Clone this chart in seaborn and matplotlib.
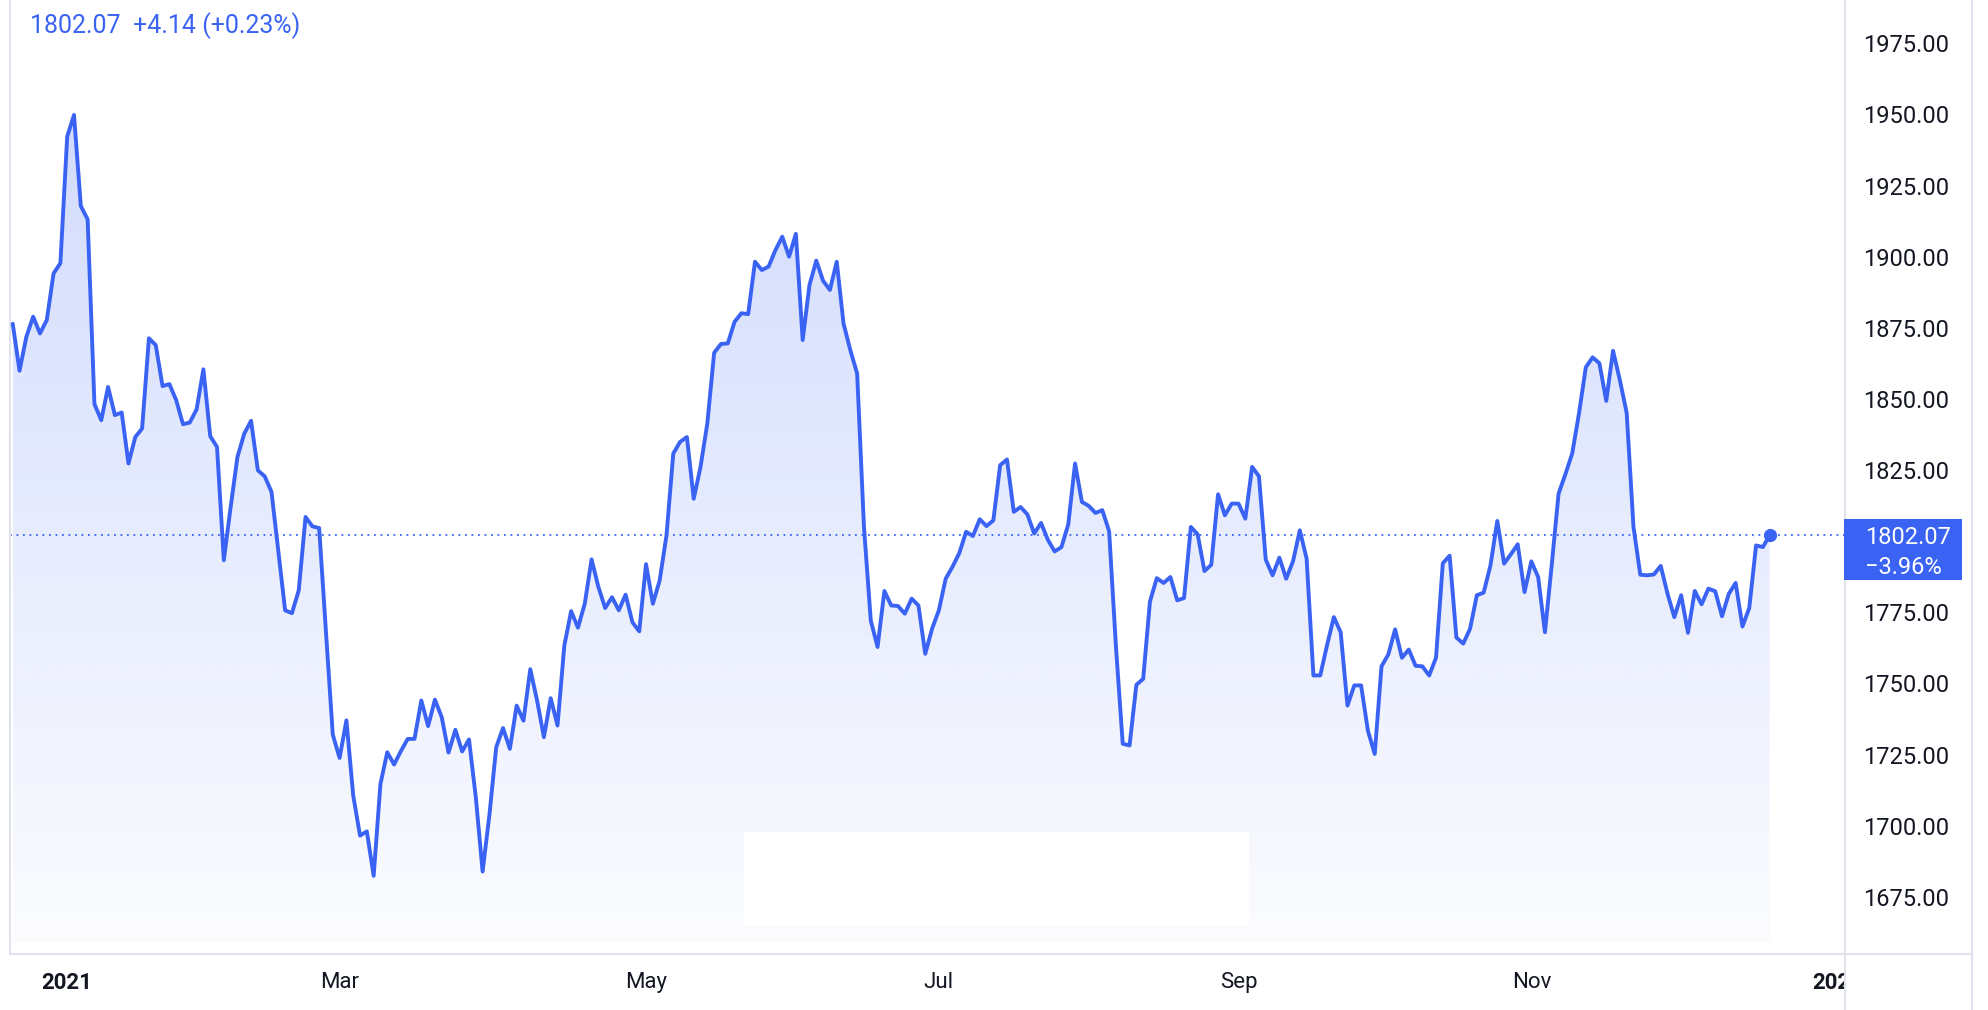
"""Gold spot, one year daily close, area chart."""
import numpy as np
import pandas as pd
import matplotlib.pyplot as plt
import matplotlib.transforms as mtransforms
from matplotlib.colors import to_rgb
from matplotlib.lines import Line2D
from matplotlib.patches import Rectangle
import seaborn as sns

# daily closes, one per trading day starting 2020-12-21
prices = [
    1876.4, 1859.9, 1871.8, 1878.9, 1873.0, 1877.7, 1894.1, 1897.7, 1942.2, 1949.8,
    1917.8, 1913.1, 1848.2, 1842.5, 1854.2, 1844.3, 1845.2, 1827.3, 1836.6, 1839.6,
    1871.3, 1868.9, 1854.5, 1855.2, 1849.6, 1841.1, 1841.7, 1846.3, 1860.4, 1836.9,
    1833.1, 1793.3, 1812.0, 1829.6, 1837.8, 1842.3, 1824.9, 1822.8, 1817.3, 1796.5,
    1775.7, 1774.7, 1782.7, 1808.5, 1805.2, 1804.6, 1768.0, 1732.0, 1723.8, 1737.0,
    1710.6, 1696.5, 1698.0, 1682.4, 1714.7, 1725.8, 1721.5, 1726.2, 1730.5, 1730.5,
    1744.0, 1735.0, 1744.3, 1738.1, 1725.7, 1733.7, 1726.1, 1730.3, 1710.0, 1683.9,
    1703.8, 1727.6, 1734.3, 1727.0, 1742.2, 1736.9, 1755.0, 1744.0, 1731.1, 1744.8,
    1735.2, 1763.3, 1775.4, 1769.6, 1778.0, 1793.6, 1783.9, 1776.5, 1780.3, 1775.7,
    1781.2, 1771.5, 1768.3, 1791.9, 1778.0, 1786.2, 1802.0, 1830.8, 1834.9, 1836.6,
    1814.9, 1826.1, 1841.4, 1866.2, 1869.3, 1869.5, 1877.1, 1880.1, 1879.8, 1898.2,
    1895.3, 1896.5, 1902.3, 1907.0, 1900.0, 1908.0, 1870.7, 1890.0, 1898.6, 1891.5,
    1888.3, 1898.2, 1876.5, 1867.1, 1858.9, 1805.0, 1772.1, 1762.8, 1782.5, 1777.4,
    1777.2, 1774.5, 1779.8, 1777.4, 1760.4, 1769.2, 1775.7, 1786.8, 1791.0, 1795.8,
    1803.3, 1801.8, 1807.7, 1805.3, 1807.3, 1826.7, 1828.7, 1810.3, 1812.0, 1809.4,
    1802.7, 1806.4, 1800.5, 1796.4, 1797.9, 1805.9, 1827.3, 1813.8, 1812.4, 1809.9,
    1810.9, 1803.5, 1763.0, 1728.8, 1728.2, 1749.5, 1751.6, 1778.8, 1787.0, 1785.3,
    1787.4, 1779.2, 1780.0, 1805.0, 1802.4, 1789.5, 1791.7, 1816.5, 1809.1, 1813.2,
    1813.2, 1807.9, 1826.1, 1822.8, 1793.5, 1788.0, 1794.2, 1786.8, 1792.9, 1803.8,
    1793.9, 1752.8, 1752.8, 1763.4, 1773.3, 1768.0, 1742.2, 1749.3, 1749.3, 1733.4,
    1725.2, 1756.0, 1760.2, 1769.0, 1759.0, 1761.9, 1756.2, 1756.0, 1752.8, 1759.0,
    1792.2, 1794.9, 1766.1, 1764.0, 1769.2, 1781.0, 1781.9, 1791.5, 1807.1, 1792.1,
    1795.4, 1798.9, 1782.1, 1792.9, 1787.4, 1768.0, 1791.8, 1816.7, 1823.5, 1830.8,
    1844.9, 1861.1, 1864.6, 1862.5, 1849.3, 1866.9, 1856.6, 1845.1, 1805.0, 1788.2,
    1788.0, 1788.3, 1791.3, 1781.5, 1773.3, 1781.0, 1767.8, 1782.5, 1777.8, 1783.3,
    1782.4, 1773.6, 1781.5, 1785.3, 1770.0, 1776.5, 1798.5, 1797.93, 1802.07,
]
start_date = "2020-12-21"
holidays = ["2020-12-25", "2021-01-01"]
price_ticks = list(range(1675, 1976, 25))
label_months = [1, 3, 5, 7, 9, 11]

LINE = "#3a63f4"
TEXT = "#131722"
BORDER = "#e0e3eb"
W, H = 1988, 1010

sns.set_style("white")
plt.rcParams["font.family"] = ["Roboto", "DejaVu Sans"]

# trading-day calendar, run a bit past the data so the next year tick exists
dates = pd.bdate_range(start_date, periods=len(prices) + 12, freq="C", holidays=holidays)
cal = pd.DataFrame({"date": dates})
cal["idx"] = np.arange(len(cal))
cal["new_month"] = cal["date"].dt.month != cal["date"].dt.month.shift()
marks = cal[cal["new_month"] & cal["date"].dt.month.isin(label_months) & (cal["idx"] > 0)]
tick_pos = marks["idx"].tolist()
tick_lab = [str(d.year) if d.month == 1 else d.strftime("%b") for d in marks["date"]]

df = pd.DataFrame({"idx": np.arange(len(prices)), "close": prices})
last, prev, first = prices[-1], prices[-2], prices[0]

fig = plt.figure(figsize=(W / 100, H / 100), dpi=100)
ax = fig.add_axes([10 / W, (H - 954) / H, 1835 / W, 954 / H])

# gradient area under the line
base = 1659.2
poly = ax.fill_between(df["idx"], df["close"], base, facecolor="none", edgecolor="none")
grad = np.zeros((256, 1, 4))
grad[..., :3] = to_rgb(LINE)
grad[:, 0, 3] = np.linspace(0.02, 0.23, 256)
im = ax.imshow(grad, extent=[0, len(prices) - 1, base, max(prices)], origin="lower",
               aspect="auto", zorder=1, interpolation="bilinear")
im.set_clip_path(poly.get_paths()[0], ax.transData)

# blank patch present in the original screenshot
ax.add_patch(Rectangle((0.4, 0.0294), 0.2752, 0.0985, transform=ax.transAxes,
                       facecolor="white", edgecolor="none", zorder=1.5))

sns.lineplot(data=df, x="idx", y="close", color=LINE, lw=2.8, ax=ax, zorder=3)
ax.plot(df["idx"].iloc[-1], last, "o", ms=8.5, color=LINE, zorder=4)
ax.axhline(last, color=LINE, lw=1.3, ls=(0, (1, 2.6)), zorder=2)

ax.set_xlim(-0.4, 269.06)
ax.set_ylim(1654.9, 1990.2)
ax.set_xlabel("")
ax.set_ylabel("")

# last price tag covers the price ticks next to it
tag_lo, tag_hi = last - 15.7, last + 5.7

ax.yaxis.tick_right()
ax.set_yticks(price_ticks, [f"{v:.2f}" for v in price_ticks])
ax.tick_params(axis="y", length=0, pad=13, labelsize=17, labelcolor=TEXT)
for v, lbl in zip(price_ticks, ax.get_yticklabels()):
    if tag_lo - 4 < v < tag_hi + 4:
        lbl.set_visible(False)
ax.set_xticks(tick_pos, tick_lab)
ax.tick_params(axis="x", length=0, pad=13, labelsize=16, labelcolor=TEXT)
for lbl in ax.get_xticklabels():
    if lbl.get_text().isdigit():
        lbl.set_fontweight("bold")

for side in ["top", "right", "bottom"]:
    ax.spines[side].set_visible(False)
ax.spines["left"].set_color(BORDER)
ax.spines["left"].set_linewidth(1.5)

# hide time labels that run under the price scale
fig.add_artist(Rectangle((1846 / W, 0), 125 / W, (H - 955) / H, transform=fig.transFigure,
                         facecolor="white", edgecolor="none", zorder=5))
for xp in [1845, 1972]:
    fig.add_artist(Line2D([xp / W] * 2, [0, 1], color=BORDER, lw=1.5, zorder=6))
fig.add_artist(Line2D([10 / W, 1972 / W], [(H - 954) / H] * 2, color=BORDER, lw=1.5, zorder=6))

trans = mtransforms.blended_transform_factory(ax.transAxes, ax.transData)
fig.add_artist(Rectangle((0.9995, tag_lo), 118 / 1835, tag_hi - tag_lo, transform=trans,
                         facecolor=LINE, edgecolor="none", zorder=7))
pct_year = (last / first - 1) * 100
fig.text(1.0109, last, f"{last:.2f}", transform=trans, color="white", fontsize=17,
         va="center_baseline", ha="left", zorder=8)
fig.text(1.0109, last, f"{pct_year:.2f}%".replace("-", "\u2212"),
         transform=mtransforms.offset_copy(trans, fig=fig, y=-29.3, units="dots"),
         color="white", fontsize=17, va="center_baseline", ha="left", zorder=8)

chg = last - prev
fig.text(30 / W, 1 - 26 / H, f"{last:.2f}  {chg:+.2f} ({chg / prev * 100:+.2f}%)",
         color=LINE, fontsize=18, va="center", ha="left")

fig.savefig("out.png", dpi=100)
